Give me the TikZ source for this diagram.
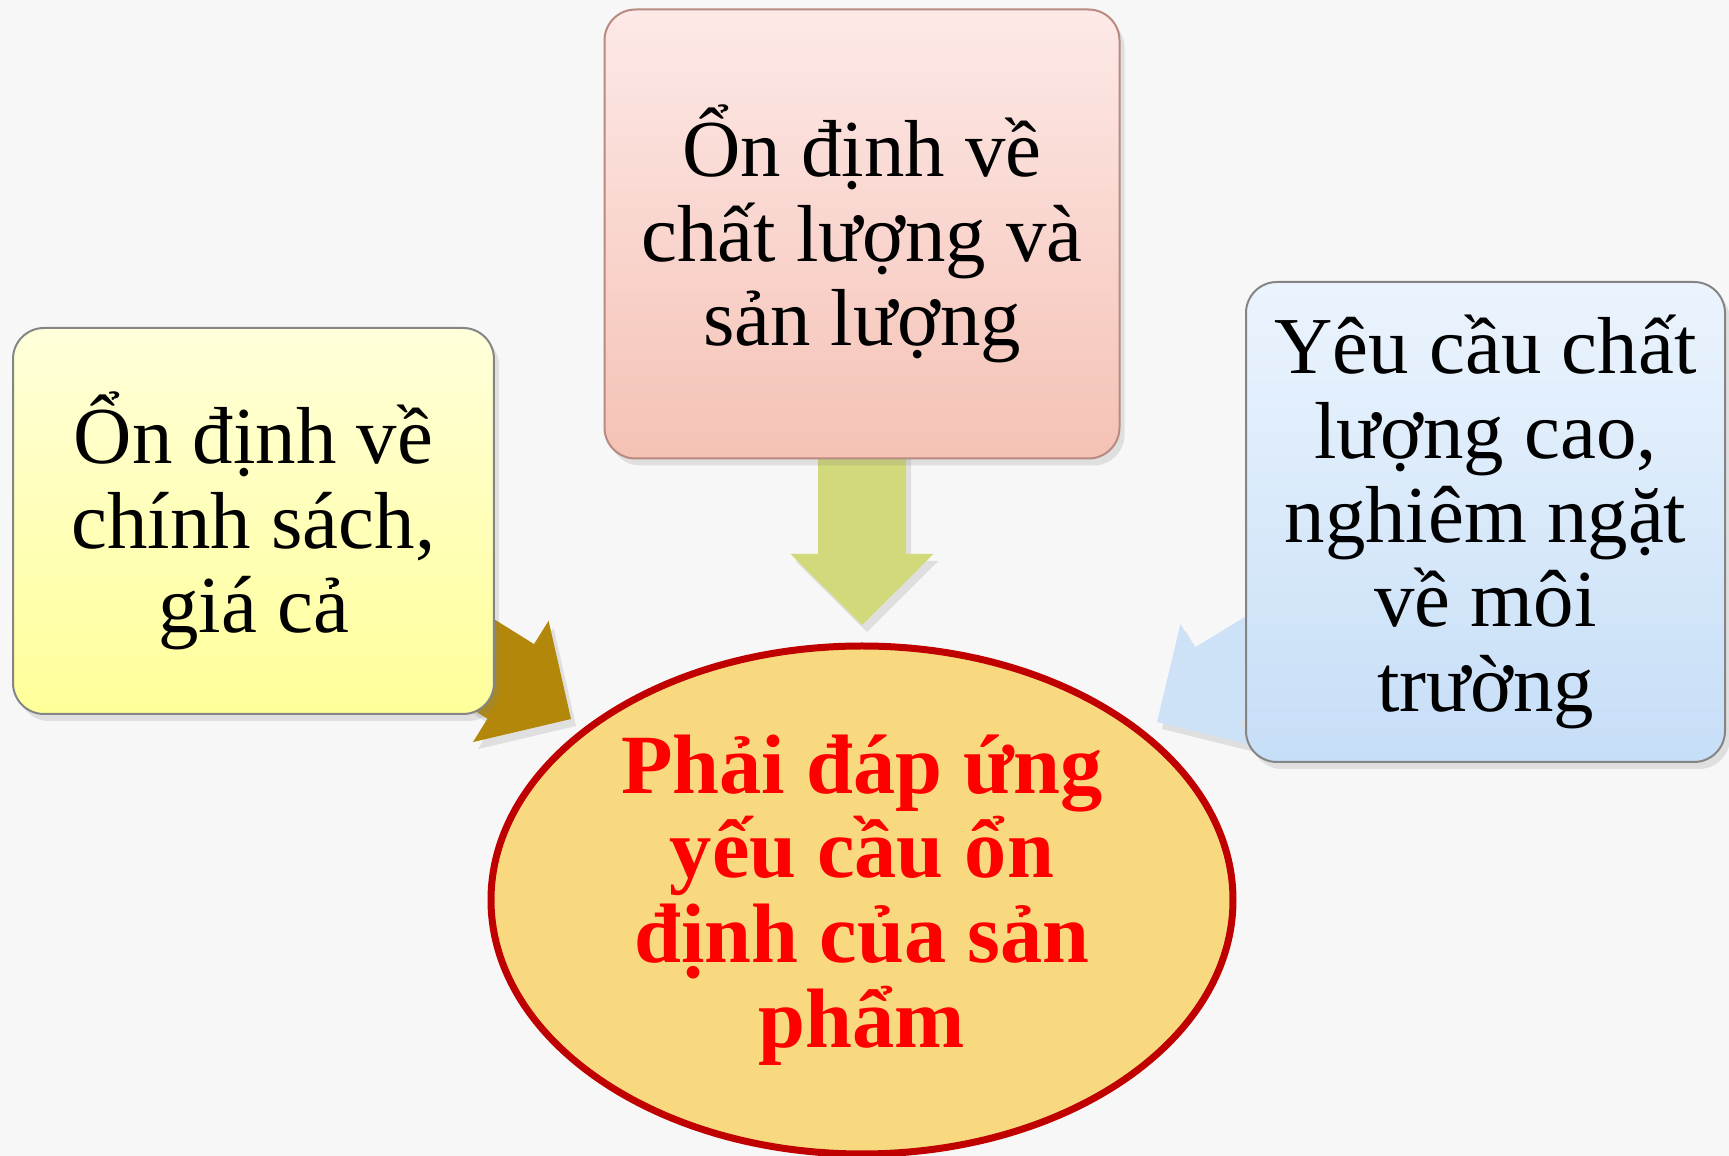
\documentclass[tikz,border=0pt]{standalone}
\usepackage{fontspec}
\setmainfont{Liberation Serif}
\usepackage{tikz}
\usetikzlibrary{positioning, shapes.geometric, shadows, backgrounds, calc}
\definecolor{paper}{HTML}{F7F7F7}
\definecolor{boxline}{HTML}{858585}
\definecolor{pinkline}{HTML}{B88A80}
\definecolor{yellowtop}{HTML}{FFFFDA}
\definecolor{yellowbot}{HTML}{FFFF99}
\definecolor{pinktop}{HTML}{FDE9E7}
\definecolor{pinkbot}{HTML}{F5C2B5}
\definecolor{bluetop}{HTML}{EBF4FD}
\definecolor{bluebot}{HTML}{C6DEF7}
\definecolor{goalfill}{HTML}{F9D980}
\definecolor{goalline}{HTML}{C00000}
\definecolor{goaltext}{HTML}{FF0000}
\definecolor{olivearrow}{HTML}{D2D97A}
\definecolor{brownarrow}{HTML}{B3880A}
\definecolor{bluearrow}{HTML}{CDE2F7}
\tikzset{%
	box/.style={draw=boxline, rectangle, rounded corners=3.1mm, line width=0.2mm,%
		align=center, inner sep=0mm, font=\fontsize{23}{24}\selectfont,%
		drop shadow={opacity=0.2, shadow xshift=0.5mm, shadow yshift=-0.7mm}},
	yellowbox/.style={box, top color=yellowtop, bottom color=yellowbot},
	pinkbox/.style={box, draw=pinkline, top color=pinktop, bottom color=pinkbot},
	bluebox/.style={box, top color=bluetop, bottom color=bluebot},
	goal/.style={draw=goalline, ellipse, line width=0.7mm, fill=goalfill, inner sep=0mm,%
		minimum width=74.2mm, minimum height=50.8mm, align=center,%
		text=goaltext, font=\bfseries\fontsize{24}{24.1}\selectfont},
	arr/.style={drop shadow={opacity=0.2, shadow xshift=0.5mm, shadow yshift=-0.7mm}}
}
% block arrow: from, tip, colour
\newcommand{\bigarrow}[3]{%
	\fill[arr, #3] (#2) -- ($(#2)!7.1mm!(#1)!7.15mm!90:(#1)$) -- ($(#2)!7.1mm!(#1)!4.4mm!90:(#1)$)%
		-- ($(#1)!4.4mm!-90:(#2)$) -- ($(#1)!4.4mm!90:(#2)$)%
		-- ($(#2)!7.1mm!(#1)!4.4mm!-90:(#1)$) -- ($(#2)!7.1mm!(#1)!7.15mm!-90:(#1)$) -- cycle;%
}

\begin{document}
\begin{tikzpicture}[x=0.1mm, y=0.1mm]
	\path[use as bounding box] (0,0) rectangle (1729,1156);
	\node[goal] (product) at (862,256) {Phải đáp ứng\\yếu cầu ổn\\định của sản\\phẩm};
	\node[pinkbox, minimum width=51.5mm, minimum height=44.9mm] (quality) [above=18.3mm of product]
		{Ổn định về\\chất lượng và\\sản lượng};
	\node[yellowbox, minimum width=48.1mm, minimum height=38.6mm] (policy) at (253.5,635)
		{Ổn định về\\chính sách,\\giá cả};
	\node[bluebox, minimum width=47.9mm, minimum height=48mm] (enviro) at (1485.5,634)
		{Yêu cầu chất\\lượng cao,\\nghiêm ngặt\\về môi\\trường};
	\coordinate (tip-l) at (571,437);
	\coordinate (tip-d) at (862,531);
	\coordinate (tip-r) at (1157,434);

	\begin{scope}[on background layer]
		\fill[paper] (0,0) rectangle (1729,1156);
		\bigarrow{quality.center}{tip-d}{olivearrow}
		\bigarrow{policy.center}{tip-l}{brownarrow}
		\bigarrow{enviro.center}{tip-r}{bluearrow}
	\end{scope}
\end{tikzpicture}
\end{document}
